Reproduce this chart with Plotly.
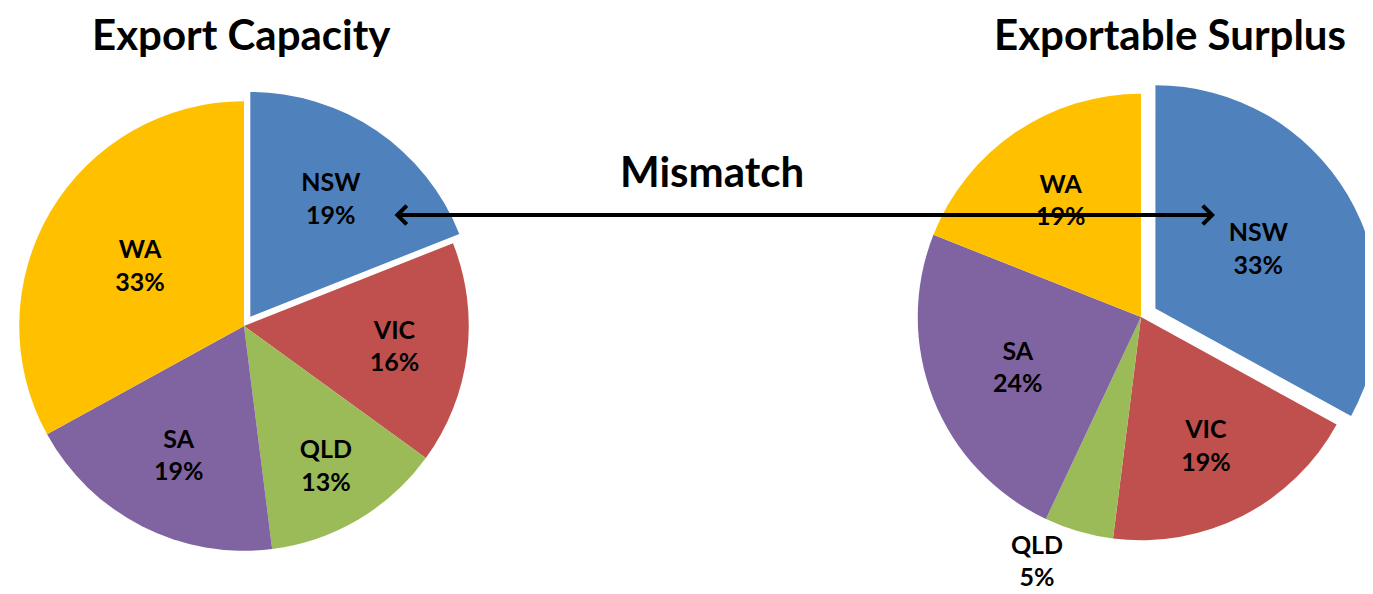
import plotly.graph_objects as go

# ---- data ----
regions = ["NSW", "VIC", "QLD", "SA", "WA"]
export_capacity = [19, 16, 13, 19, 33]
exportable_surplus = [33, 19, 5, 24, 19]
colors = ["#4F81BD", "#C0504D", "#9BBB59", "#8064A2", "#FFC000"]
left_title = "Export Capacity"
right_title = "Exportable Surplus"
middle_text = "Mismatch"

W, H = 1373, 594
OFF = 8  # page body margin in the browser
FONT = "Lato"

def px(x):
    return (x - OFF) / W

def py(y):
    return 1 - (y - OFF) / H

def dom_x(cx, size):
    return [px(cx - size / 2), px(cx + size / 2)]

def dom_y(cy, size):
    return [py(cy + size / 2), py(cy - size / 2)]

label_font = dict(family=FONT, size=25, color="black", weight="bold")

fig = go.Figure()

fig.add_trace(go.Pie(
    labels=regions, values=export_capacity,
    sort=False, direction="clockwise", rotation=0,
    marker=dict(colors=colors, line=dict(width=0)),
    pull=[0.05, 0, 0, 0, 0],
    texttemplate="%{label}<br>%{value}%",
    textposition="inside",
    insidetextorientation="horizontal",
    textfont=label_font,
    domain=dict(x=dom_x(244, 472), y=dom_y(326, 472)),
    showlegend=False, hoverinfo="label+percent",
))

fig.add_trace(go.Pie(
    labels=regions, values=exportable_surplus,
    sort=False, direction="clockwise", rotation=0,
    marker=dict(colors=colors, line=dict(width=0)),
    pull=[0.075, 0, 0, 0, 0],
    texttemplate="%{label}<br>%{value}%",
    textposition=["inside", "inside", "outside", "inside", "inside"],
    insidetextorientation="horizontal",
    textfont=label_font,
    domain=dict(x=dom_x(1141, 480), y=dom_y(317, 480)),
    showlegend=False, hoverinfo="label+percent",
))

title_font = dict(family=FONT, size=42, color="black", weight="bold")
annotations = [
    dict(text=left_title, x=px(241), y=py(8), xref="paper", yref="paper",
         xanchor="center", yanchor="top", showarrow=False, font=title_font,
         borderpad=0),
    dict(text=right_title, x=px(1170), y=py(8), xref="paper", yref="paper",
         xanchor="center", yanchor="top", showarrow=False, font=title_font,
         borderpad=0),
    dict(text=middle_text, x=px(712), y=py(171), xref="paper", yref="paper",
         xanchor="center", yanchor="middle", showarrow=False, font=title_font),
    dict(text="", x=px(1215), y=py(215), xref="paper", yref="paper",
         ax=393 - 1215, ay=0, axref="pixel", ayref="pixel",
         showarrow=True, arrowside="end+start", arrowhead=4, startarrowhead=4,
         arrowwidth=4, arrowsize=0.9, startarrowsize=0.9, arrowcolor="black",
         standoff=0, startstandoff=0),
]

fig.update_layout(
    width=W, height=H,
    margin=dict(l=0, r=0, t=0, b=0, autoexpand=False),
    paper_bgcolor="white", plot_bgcolor="white",
    annotations=annotations,
    uniformtext=dict(minsize=10, mode="show"),
)

fig.write_html("out.html")
